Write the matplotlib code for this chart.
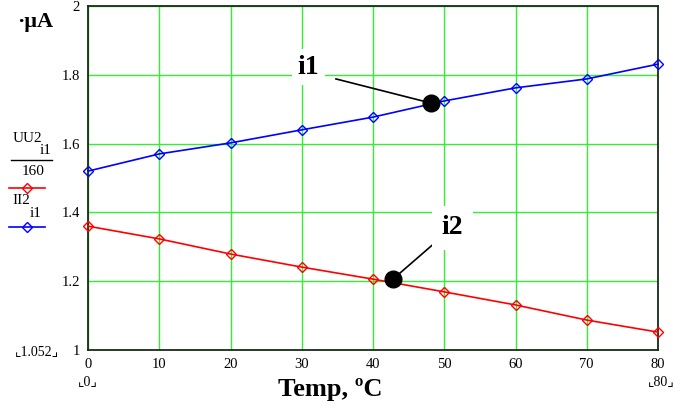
import matplotlib
matplotlib.use("Agg")
import matplotlib.pyplot as plt
from matplotlib.lines import Line2D

plt.rcParams['font.family'] = ['Liberation Serif', 'DejaVu Serif']

# --- data ---
temp = [0, 10, 20, 30, 40, 50, 60, 70, 80]
ii2 = [1.520, 1.570, 1.602, 1.640, 1.677, 1.724, 1.762, 1.788, 1.831]
uu2_160 = [1.360, 1.323, 1.279, 1.241, 1.206, 1.169, 1.131, 1.087, 1.052]

y_ticks = [1, 1.2, 1.4, 1.6, 1.8, 2]
y_tick_labels = ['1', '1.2', '1.4', '1.6', '1.8', '2']
x_ticks = [0, 10, 20, 30, 40, 50, 60, 70, 80]

# annotation points
i1_pt = (48.1, 1.718)
i1_txt = (30.9, 1.822)
i2_pt = (42.8, 1.206)
i2_txt = (51.1, 1.355)

W, H = 687, 411

fig = plt.figure(figsize=(6.87, 4.11), dpi=100)
ax = fig.add_axes([88 / W, 1 - 350 / H, 570 / W, 344 / H])

ax.plot(temp, uu2_160, color='red', lw=1.2, marker='D', markersize=5,
        markerfacecolor='none', markeredgewidth=1.0, clip_on=False, zorder=3)
ax.plot(temp, ii2, color='blue', lw=1.2, marker='D', markersize=5,
        markerfacecolor='none', markeredgewidth=1.0, clip_on=False, zorder=3)

ax.set_xlim(0, 80)
ax.set_ylim(1, 2)
ax.set_xticks(x_ticks)
ax.set_yticks(y_ticks)
ax.set_yticklabels(y_tick_labels)
ax.tick_params(length=0, labelsize=10.5, pad=6)
ax.grid(True, color='#33ee33', lw=1.0)
ax.set_axisbelow(True)
for s in ax.spines.values():
    s.set_color('#1a2a1a')
    s.set_linewidth(1.3)

# annotations
ax.plot(*i1_pt, 'o', color='black', markersize=12, zorder=5)
ax.plot([34.8, i1_pt[0]], [1.788, i1_pt[1]], color='black', lw=1.2, zorder=4)
ax.text(i1_txt[0], i1_txt[1], 'i1', fontsize=20, fontweight='bold', ha='center', va='center',
        bbox=dict(facecolor='white', edgecolor='none', pad=4), zorder=4)
ax.plot(*i2_pt, 'o', color='black', markersize=12, zorder=5)
ax.plot([i2_pt[0], 48.6], [i2_pt[1], 1.31], color='black', lw=1.2, zorder=4)
ax.text(i2_txt[0], i2_txt[1], 'i2', fontsize=20, fontweight='bold', ha='center', va='center',
        bbox=dict(facecolor='white', edgecolor='none', pad=7), zorder=4)

# unit label
fig.text(17 / W, 1 - 22 / H, '·μA', fontsize=16, fontweight='bold', va='center', ha='left')


def ft(x, y, s, **kw):
    fig.text(x / W, 1 - y / H, s, va='center', **kw)


# left-side legend
ft(13, 139, 'UU2', fontsize=11)
ft(40, 150, 'i1', fontsize=11)
fig.add_artist(Line2D([11 / W, 52 / W], [1 - 160 / H] * 2, color='black', lw=1.0))
ft(22, 171, '160', fontsize=11)
fig.add_artist(Line2D([9 / W, 45 / W], [1 - 188 / H] * 2, color='red', lw=1.2))
fig.add_artist(Line2D([27 / W], [1 - 188 / H], color='red', marker='D', markersize=5,
                      markerfacecolor='none', lw=0))
ft(12, 201, 'II2', fontsize=11)
ft(30, 213, 'i1', fontsize=11)
fig.add_artist(Line2D([9 / W, 45 / W], [1 - 227 / H] * 2, color='blue', lw=1.2))
fig.add_artist(Line2D([27 / W], [1 - 227 / H], color='blue', marker='D', markersize=5,
                      markerfacecolor='none', lw=0))

# range markers
corner_fam = ['Liberation Serif', 'DejaVu Sans']
ft(37, 352, '⌞1.052⌟', fontsize=10, ha='center', family=corner_fam)
ft(88, 382, '⌞0⌟', fontsize=10, ha='center', family=corner_fam)
ft(661, 382, '⌞80⌟', fontsize=10, ha='center', family=corner_fam)

# x label
fig.text(330 / W, 1 - 389 / H, 'Temp, ºC', fontsize=19, fontweight='bold', ha='center', va='center')

fig.savefig('out.png', dpi=100)
